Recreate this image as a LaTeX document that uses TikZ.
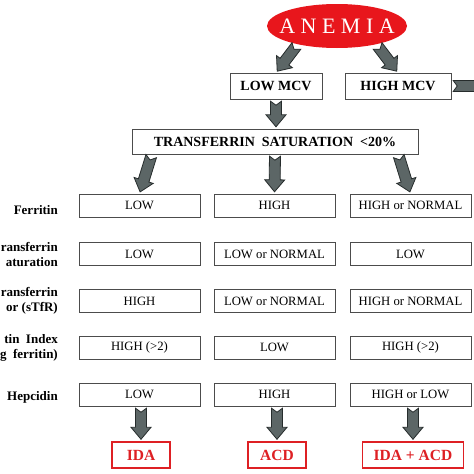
\documentclass[tikz,border=0pt]{standalone}
\usepackage{fontspec}
\setmainfont{Liberation Serif}
\usetikzlibrary{calc}
\usetikzlibrary{shapes.geometric}

\definecolor{anemiared}{RGB}{232,22,28}
\definecolor{boxred}{RGB}{222,32,36}
\definecolor{arrowfill}{RGB}{92,102,102}
\definecolor{arrowline}{RGB}{38,44,44}

\tikzset{
	topbox/.style={draw=black!70, fill=white, minimum height=26pt, inner sep=0pt, font=\fontsize{14}{16}\selectfont\bfseries},
	valbox/.style={draw=black!70, fill=white, minimum width=121pt, minimum height=23pt, inner sep=0pt, font=\fontsize{12.7}{14}\selectfont},
	rowlabel/.style={anchor=east, align=right, inner sep=0pt, font=\fontsize{13}{15}\selectfont\bfseries},
	resbox/.style={draw=boxred, line width=1.4pt, fill=white, minimum height=26pt, inner sep=0pt, text=boxred, font=\fontsize{15.5}{17}\selectfont\bfseries},
	fatarrow/.style={fill=arrowfill, draw=arrowline, line width=0.8pt, line join=miter},
}

% block arrow with notched tail, between two points
\def\shaftw{5.5pt}
\def\headw{10pt}
\def\headl{12pt}
\def\notch{4pt}
\newcommand{\fatarrow}[2]{%
	\path (#1) coordinate (fas) (#2) coordinate (fae);
	\path ($(fas)!2pt!(fae)$) coordinate (faa) ($(fae)!2pt!(fas)$) coordinate (fab);
	\filldraw[fatarrow] ($(faa)!\shaftw!90:(fab)$)
		-- ($(fab)!\headl!(faa)!\shaftw!90:(fab)$)
		-- ($(fab)!\headl!(faa)!\headw!90:(fab)$)
		-- (fab)
		-- ($(fab)!\headl!(faa)!\headw!-90:(fab)$)
		-- ($(fab)!\headl!(faa)!\shaftw!-90:(fab)$)
		-- ($(faa)!\shaftw!-90:(fab)$)
		-- ($(faa)!\notch!(fab)$) -- cycle;
}

\begin{document}
\begin{tikzpicture}[x=1pt, y=-1pt]
	\useasboundingbox (0,0) rectangle (474,474);
	\clip (0,0) rectangle (474,474);
	\fill[white] (0,0) rectangle (474,474);

	\node[ellipse, fill=anemiared, minimum width=140pt, minimum height=44pt, inner sep=0pt] (anemia) at (337,26)
		{\makebox[40pt]{\color{white}\fontsize{22}{24}\selectfont\addfontfeature{LetterSpace=25}ANEMIA}};

	\node[topbox, minimum width=92pt] (lowmcv) at (276,86) {LOW MCV};
	\node[topbox, minimum width=106pt] (highmcv) at (398,86) {HIGH\ MCV};
	\coordinate (offpage) at (500,86);
	\node[topbox, minimum width=286pt, minimum height=25pt] (tsat) at (275,141.5) {TRANSFERRIN\ \ SATURATION\ \ <20\%};

	% row labels, cut at the left edge
	\node[rowlabel] (lfer) at (58,210) {Ferritin};
	\node[rowlabel] (lsat) at (58,254) {ransferrin\\aturation};
	\node[rowlabel] (lrec) at (58,301) {ransferrin\\or (sTfR)};
	\node[rowlabel] (lidx) at (58,348) {tin\ \ Index\\g\ \ ferritin)};
	\node[rowlabel] (lhep) at (58,397) {Hepcidin};

	\node[valbox] (fer1) at (139.5,205.5) {LOW};
	\node[valbox] (fer2) at (274.5,205.5) {HIGH};
	\node[valbox] (fer3) at (410.5,205.5) {HIGH or NORMAL};

	\node[valbox] (sat1) at (139.5,254) {LOW};
	\node[valbox] (sat2) at (274.5,254) {LOW or NORMAL};
	\node[valbox] (sat3) at (410.5,254) {LOW};

	\node[valbox] (rec1) at (139.5,301) {HIGH};
	\node[valbox] (rec2) at (274.5,301) {LOW or NORMAL};
	\node[valbox] (rec3) at (410.5,301) {HIGH or NORMAL};

	\node[valbox] (idx1) at (139.5,347.5) {HIGH (>2)};
	\node[valbox] (idx2) at (274.5,347.5) {LOW};
	\node[valbox] (idx3) at (410.5,347.5) {HIGH (>2)};

	\node[valbox] (hep1) at (139.5,394.5) {LOW};
	\node[valbox] (hep2) at (274.5,394.5) {HIGH};
	\node[valbox] (hep3) at (410.5,394.5) {HIGH or LOW};

	\node[resbox, minimum width=58pt] (ida) at (141,455) {IDA};
	\node[resbox, minimum width=58pt] (acd) at (277,455) {ACD};
	\node[resbox, minimum width=101pt] (idaacd) at (413,455) {IDA + ACD};

	\fatarrow{anemia.205}{lowmcv.north}
	\fatarrow{anemia.335}{highmcv.north}
	\fatarrow{highmcv.east}{offpage}
	\fatarrow{lowmcv.south}{lowmcv.south |- tsat.north}

	\fatarrow{$(tsat.south west)+(20,0)$}{fer1.north}
	\fatarrow{tsat.south}{fer2.north}
	\fatarrow{$(tsat.south east)+(-20,0)$}{fer3.north}

	\fatarrow{hep1.south -| ida.north}{ida.north}
	\fatarrow{hep2.south -| acd.north}{acd.north}
	\fatarrow{hep3.south -| idaacd.north}{idaacd.north}

\end{tikzpicture}
\end{document}
